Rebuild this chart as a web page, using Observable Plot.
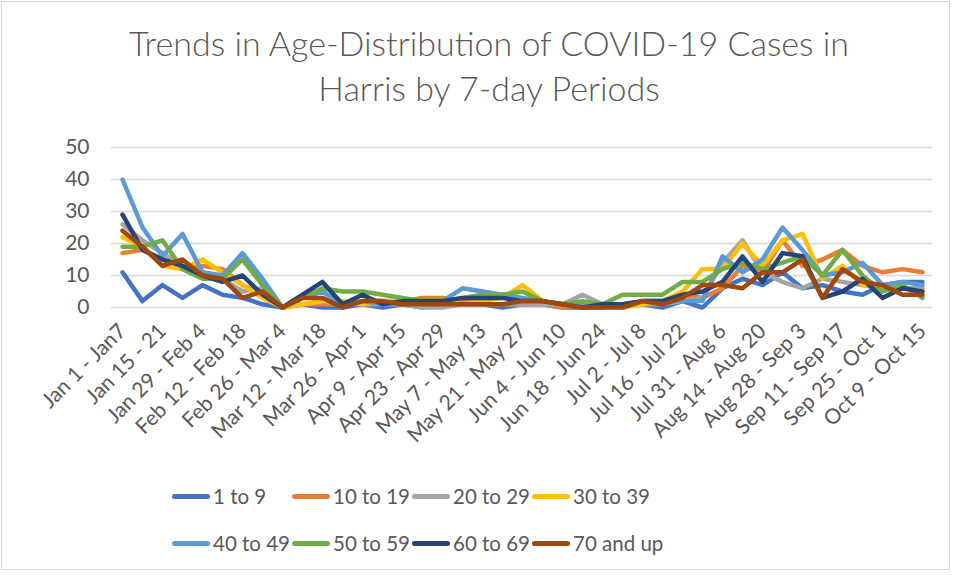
<!DOCTYPE html>
<html>
<head>
<meta charset="utf-8">
<script src="https://cdn.jsdelivr.net/npm/d3@7"></script>
<script src="https://cdn.jsdelivr.net/npm/@observablehq/plot@0.6"></script>
<style>
  html, body { margin: 0; padding: 0; background: #fff; }
  #chart { position: relative; width: 956px; height: 575px; overflow: hidden; font-family: Lato, "Open Sans", sans-serif; color: #595959; }
  #frame { position: absolute; left: 1px; top: 1px; width: 949px; height: 569px; border: 1px solid #d9d9d9; box-sizing: border-box; }
  #title { position: absolute; left: 11px; top: 20px; width: 956px; text-align: center; font-size: 34px; font-weight: 300; line-height: 45px; color: #595959; }
  #plot { position: absolute; left: 0; top: 125px; }
  .leg { position: absolute; display: flex; align-items: center; font-size: 20.5px; color: #595959; white-space: nowrap; }
  .leg .sw { width: 38px; height: 5px; border-radius: 3px; margin-right: 3px; }
</style>
</head>
<body>
<div id="chart">
  <div id="frame"></div>
  <div id="title">Trends in Age-Distribution of COVID-19 Cases in<br>Harris by 7-day Periods</div>
  <div id="plot"></div>
  <div id="legend"></div>
</div>
<script>
const periods = [
  "Jan 1 - Jan7", "Jan 8 - Jan 14", "Jan 15 - 21", "Jan 22 - Jan 28", "Jan 29 - Feb 4",
  "Feb 5 - Feb 11", "Feb 12 - Feb 18", "Feb 19 - Feb 25", "Feb 26 - Mar 4", "Mar 5 - Mar 11",
  "Mar 12 - Mar 18", "Mar 19 - Mar 25", "Mar 26 - Apr 1", "Apr 2 - Apr 8", "Apr 9 - Apr 15",
  "Apr 16 - Apr 22", "Apr 23 - Apr 29", "Apr 30 - May 6", "May 7 - May 13", "May 14 - May 20",
  "May 21 - May 27", "May 28 - Jun 3", "Jun 4 - Jun 10", "Jun 11 - Jun 17", "Jun 18 - Jun 24",
  "Jun 25 - Jul 1", "Jul 2 - Jul 8", "Jul 9 - Jul 15", "Jul 16 - Jul 22", "Jul 23 - Jul 30",
  "Jul 31 - Aug 6", "Aug 7 - Aug 13", "Aug 14 - Aug 20", "Aug 21 - Aug 27", "Aug 28 - Sep 3",
  "Sep 4 - Sep 10", "Sep 11 - Sep 17", "Sep 18 - Sep 24", "Sep 25 - Oct 1", "Oct 2 - Oct 8",
  "Oct 9 - Oct 15"
];
const tickLabels = [
  "Jan 1 - Jan7", "Jan 15 - 21", "Jan 29 - Feb 4", "Feb 12 - Feb 18", "Feb 26 - Mar 4",
  "Mar 12 - Mar 18", "Mar 26 - Apr 1", "Apr 9 - Apr 15", "Apr 23 - Apr 29", "May 7 - May 13",
  "May 21 - May 27", "Jun 4 - Jun 10", "Jun 18 - Jun 24", "Jul 2 - Jul 8", "Jul 16 - Jul 22",
  "Jul 31 - Aug 6", "Aug 14 - Aug 20", "Aug 28 - Sep 3", "Sep 11 - Sep 17", "Sep 25 - Oct 1",
  "Oct 9 - Oct 15"
];
const yTicks = [0, 10, 20, 30, 40, 50];

const seriesNames = ["1 to 9", "10 to 19", "20 to 29", "30 to 39", "40 to 49", "50 to 59", "60 to 69", "70 and up"];
const seriesColors = ["#4472C4", "#ED7D31", "#A5A5A5", "#FFC000", "#5B9BD5", "#70AD47", "#264478", "#9E480E"];

const age1to9   = [11,2,7,3,7,4,3,1,0, 1,0,0,1,0,1,0,1,1,1,0,1,1,0,0,0,1,1,0,2, 0,6,9,7,11,6,7,5,4,7,8,8];
const age10to19 = [17,18,15,13,13,12,7,4,0, 1,1,1,2,2,2,3,3,2,1,1,1,1,0,1,0,1,1,2,4, 3,6,13,11,21,13,15,18,13,11,12,11];
const age20to29 = [26,21,17,13,11,9,5,6,0, 1,2,1,1,1,1,0,0,1,1,1,1,1,1,4,1,1,1,1,2, 3,14,21,11,8,6,9,8,7,6,6,6];
const age30to39 = [22,19,13,12,15,11,7,3,0, 1,2,2,1,2,2,2,2,1,2,3,7,2,1,0,1,0,1,2,5, 12,12,20,13,21,23,9,13,7,7,6,5];
const age40to49 = [40,25,16,23,11,10,17,9,0, 3,5,1,2,1,1,1,2,6,5,4,3,2,1,1,1,1,2,2,2, 2,16,11,15,25,18,10,11,14,7,8,7];
const age50to59 = [19,19,21,12,9,9,15,7,0, 3,6,5,5,4,3,2,2,3,4,4,5,2,1,2,1,4,4,4,8, 8,12,14,12,14,16,10,18,10,5,7,3];
const age60to69 = [29,18,15,13,10,8,10,4,0, 4,8,1,4,1,2,2,2,3,3,3,2,2,1,0,1,1,2,2,4, 5,8,16,8,17,16,3,5,9,3,6,5];
const age70up   = [24,19,13,15,10,9,3,5,0, 3,3,0,2,2,1,1,1,1,1,1,2,2,1,0,0,0,2,1,3, 7,7,6,11,11,15,3,12,8,7,4,4];

const seriesValues = [age1to9, age10to19, age20to29, age30to39, age40to49, age50to59, age60to69, age70up];

const data = [];
seriesNames.forEach((name, s) => {
  seriesValues[s].forEach((v, i) => data.push({series: name, period: periods[i], value: v}));
});

const chart = Plot.plot({
  width: 956,
  height: 350,
  marginLeft: 111,
  marginRight: 24,
  marginTop: 22,
  marginBottom: 168,
  style: {fontFamily: "Lato, 'Open Sans', sans-serif", color: "#595959", background: "transparent"},
  x: {type: "point", domain: periods, padding: 0.5},
  y: {domain: [0, 50]},
  color: {domain: seriesNames, range: seriesColors},
  marks: [
    Plot.ruleY(yTicks, {stroke: "#d9d9d9", strokeWidth: 1.3}),
    Plot.axisY({ticks: yTicks, tickSize: 0, tickPadding: 22, fontSize: 21, label: null}),
    Plot.axisX({ticks: tickLabels, tickSize: 0, tickPadding: 20, tickRotate: -45, fontSize: 21, label: null}),
    Plot.lineY(data, {x: "period", y: "value", z: "series", stroke: "series", strokeWidth: 4.5, strokeLinejoin: "round", strokeLinecap: "round"})
  ]
});
document.getElementById("plot").appendChild(chart);

const legend = document.getElementById("legend");
const colX = [172, 292, 412, 532];
const rowY = [496, 543];
seriesNames.forEach((name, i) => {
  const el = document.createElement("div");
  el.className = "leg";
  el.style.left = colX[i % 4] + "px";
  el.style.top = (rowY[Math.floor(i / 4)] - 13) + "px";
  el.style.height = "26px";
  const sw = document.createElement("span");
  sw.className = "sw";
  sw.style.background = seriesColors[i];
  const tx = document.createElement("span");
  tx.textContent = name;
  el.appendChild(sw);
  el.appendChild(tx);
  legend.appendChild(el);
});
</script>
</body>
</html>
